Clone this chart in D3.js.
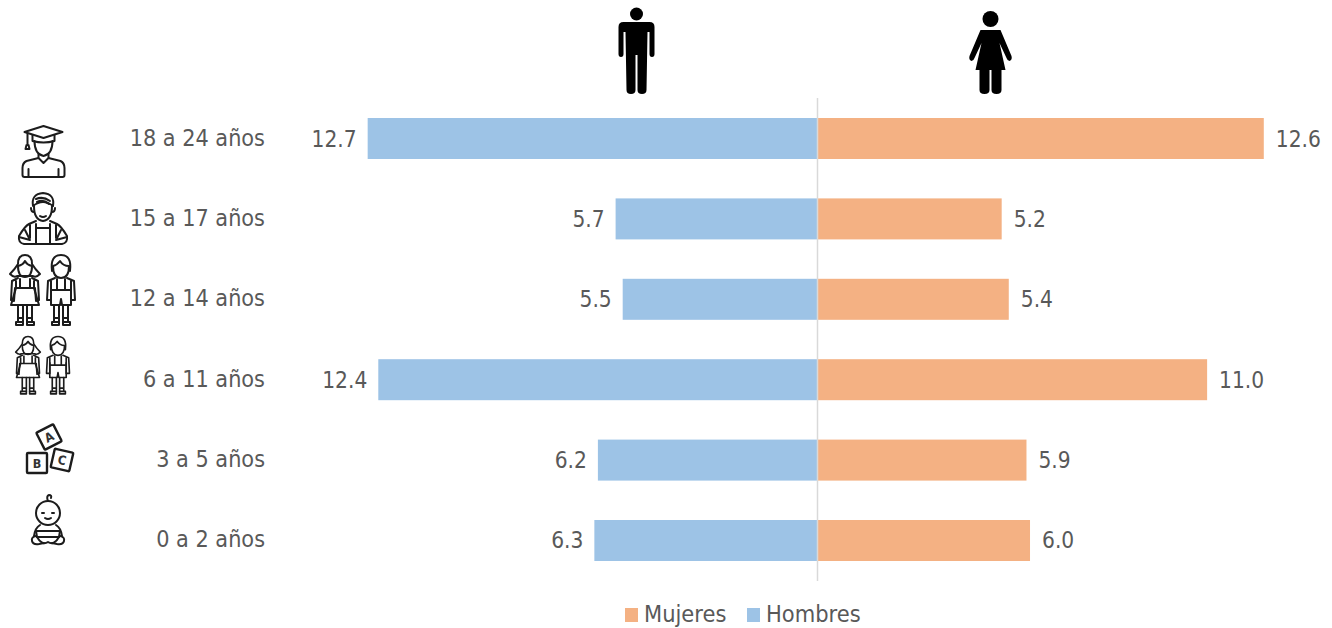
<!DOCTYPE html>
<html><head><meta charset="utf-8">
<script src="https://cdn.jsdelivr.net/npm/d3@7"></script>
<style>
html,body{margin:0;padding:0;background:#fff}
svg{display:block}
text{font-family:"DejaVu Sans";font-stretch:condensed;fill:#595959;font-size:22.5px}
text.cat{font-size:23.2px}
text.lg{font-size:23.4px}
.ic *{fill:none;stroke:#1c1c1c;stroke-width:2;stroke-linejoin:round;stroke-linecap:round}
.sil *{fill:#000;stroke:none}
</style></head><body>
<svg id="c" width="1332" height="628"></svg>
<script>
const categories=["18 a 24 años","15 a 17 años","12 a 14 años","6 a 11 años","3 a 5 años","0 a 2 años"];
const hombres=[12.7,5.7,5.5,12.4,6.2,6.3];
const mujeres=[12.6,5.2,5.4,11.0,5.9,6.0];
const seriesNames=["Mujeres","Hombres"];
const colors={Mujeres:"#F4B183",Hombres:"#9DC3E6"};

const svg=d3.select("#c");
const cx=817.5, unit=35.42;
const xR=d3.scaleLinear().domain([0,1]).range([cx,cx+unit]);
const xL=d3.scaleLinear().domain([0,1]).range([cx,cx-unit]);
const y=d3.scaleBand().domain(categories).range([118,561]).paddingInner(0.49).paddingOuter(0);
const fmt=d3.format(".1f");

svg.selectAll(".h").data(categories).join("rect").attr("class","h")
 .attr("x",(d,i)=>xL(hombres[i])).attr("y",d=>y(d)).attr("height",y.bandwidth())
 .attr("width",(d,i)=>xL(0)-xL(hombres[i])).attr("fill",colors.Hombres);
svg.selectAll(".m").data(categories).join("rect").attr("class","m")
 .attr("x",cx).attr("y",d=>y(d)).attr("height",y.bandwidth())
 .attr("width",(d,i)=>xR(mujeres[i])-cx).attr("fill",colors.Mujeres);
svg.append("line").attr("x1",cx).attr("x2",cx).attr("y1",98).attr("y2",581).attr("stroke","#d9d9d9").attr("stroke-width",1.5);

svg.selectAll(".hl").data(categories).join("text").attr("class","hl")
 .attr("x",(d,i)=>xL(hombres[i])-11).attr("y",d=>y(d)+y.bandwidth()/2+8).attr("text-anchor","end")
 .text((d,i)=>fmt(hombres[i]));
svg.selectAll(".ml").data(categories).join("text").attr("class","ml")
 .attr("x",(d,i)=>xR(mujeres[i])+12).attr("y",d=>y(d)+y.bandwidth()/2+8)
 .text((d,i)=>fmt(mujeres[i]));
svg.selectAll(".cat").data(categories).join("text").attr("class","cat")
 .attr("x",265).attr("y",d=>y(d)+y.bandwidth()/2+7).attr("text-anchor","end").text(d=>d);

// legend
const leg=[{n:"Mujeres",sx:625,tx:644},{n:"Hombres",sx:747,tx:766}];
leg.forEach(l=>{
 svg.append("rect").attr("x",l.sx).attr("y",608).attr("width",13).attr("height",14).attr("fill",colors[l.n]);
 svg.append("text").attr("class","lg").attr("x",l.tx).attr("y",622.4).text(l.n);
});

// silhouettes
function man(g){
 g.append("circle").attr("cx",0).attr("cy",-38).attr("r",6.5);
 g.append("path").attr("d","M-13,-30 Q-18,-30 -18,-25 L-18,2 Q-18,5 -15.5,5 Q-13,5 -13,2 L-13,-20 L-11,-20 L-10,38 Q-10,42 -5.5,42 Q-1,42 -1,38 L-1,3 L1,3 L1,38 Q1,42 5.5,42 Q10,42 10,38 L11,-20 L13,-20 L13,2 Q13,5 15.5,5 Q18,5 18,2 L18,-25 Q18,-30 13,-30 Z");
}
function woman(g){
 g.append("circle").attr("cx",0).attr("cy",-43).attr("r",8);
 g.append("path").attr("d","M-10,-32 L10,-32 L21,-6 Q22,-2 19,-1 Q17,-1 16,-4 L9,-19 L15,8 L11,8 L11,28 Q11,32 6,32 Q1,32 1,28 L1,8 L-1,8 L-1,28 Q-1,32 -6,32 Q-11,32 -11,28 L-11,8 L-15,8 L-9,-19 L-16,-4 Q-17,-1 -19,-1 Q-22,-2 -21,-6 Z");
}
man(svg.append("g").attr("class","sil").attr("transform","translate(636.5,52)"));
woman(svg.append("g").attr("class","sil").attr("transform","translate(990.5,62)"));

// outlined icons
function grad(g){
 g.append("path").attr("d","M-19,-15 L0,-21 L19,-15 L0,-9 Z");
 g.append("path").attr("d","M-11,-12 L-11,-6 Q0,-3 11,-6 L11,-12");
 g.append("path").attr("d","M-16,-14 L-16,-2 M-17,-2 L-15,-2 L-14,2 L-18,2 Z");
 g.append("path").attr("d","M-9,-6 Q-9,7 0,9 Q9,7 9,-6");
 g.append("path").attr("d","M-5,7 L-5,11 L0,16 L5,11 L5,7");
 g.append("path").attr("d","M-5,11 L-17,14 Q-21,16 -21,21 L-21,28 Q-21,30 -19,30 L19,30 Q21,30 21,28 L21,21 Q21,16 17,14 L5,11");
 g.append("path").attr("d","M-15,30 L-15,22 M15,30 L15,22");
}
function teen(g){
 g.append("path").attr("d","M-10,-10 Q-12,-22 0,-23 Q12,-22 10,-10 Q0,-18 -10,-10 Z");
 g.append("path").attr("d","M-7,-17 Q0,-20 7,-15 M-6,-14 Q0,-17 6,-12");
 g.append("path").attr("d","M-9,-10 Q-9,4 0,5 Q9,4 9,-10");
 g.append("path").attr("d","M-12,-8 Q-12,-4 -9,-4 M12,-8 Q12,-4 9,-4");
 g.append("path").attr("d","M-3,0 Q0,2 3,0");
 g.append("path").attr("d","M-7,5 L-14,8 Q-18,10 -24,20 Q-25,27 -19,28 L19,28 Q25,27 24,20 Q18,10 14,8 L7,5");
 g.append("path").attr("d","M-13,9 L-13,22 M13,9 L13,22 M-7,8 L-7,28 M7,8 L7,28 M-7,12 L7,12");
 g.append("path").attr("d","M-24,21 L-13,24 M24,21 L13,24 M-18,14 L-14,22 M18,14 L14,22");
}
function girl(g){
 g.append("path").attr("d","M-7,-27 Q-7,-36 0,-36 Q7,-36 7,-27 Q10,-22 15,-17 Q11,-13 8,-15 L-8,-15 Q-11,-13 -15,-17 Q-10,-22 -7,-27");
 g.append("path").attr("d","M-7,-25 Q-7,-14 0,-14 Q7,-14 7,-25 Q2,-26 0,-30 Q-2,-26 -7,-25");
 g.append("path").attr("d","M-7,-13 L-13,-10 L-14,9 L-11,10 L-10,-3 M7,-13 L13,-10 L14,9 L11,10 L10,-3 M-9,-10 L-9,-3 M9,-10 L9,-3 M-9,-3 L9,-3 M-5,-12 L-5,-3 M5,-12 L5,-3");
 g.append("path").attr("d","M-9,-3 L-14,14 L14,14 L9,-3");
 g.append("path").attr("d","M-7,14 L-7,31 M-2,14 L-2,31 M2,14 L2,31 M7,14 L7,31 M-7,27 L-2,27 M2,27 L7,27");
 g.append("path").attr("d","M-9,34 L-9,31 L-2,31 L-2,34 Z M2,34 L2,31 L9,31 L9,34 Z");
}
function boy(g){
 g.append("path").attr("d","M-9,-20 Q-11,-36 0,-36 Q11,-36 9,-20");
 g.append("path").attr("d","M-8,-25 Q-8,-13 0,-13 Q8,-13 8,-25 Q2,-25 -1,-30 Q-4,-26 -8,-25");
 g.append("path").attr("d","M-6,-13 L-13,-10 L-14,9 L-10,9 L-10,-4 M6,-13 L13,-10 L14,9 L10,9 L10,-4");
 g.append("path").attr("d","M-10,-10 L-10,14 L-1,14 L0,8 L1,14 L10,14 L10,-10 M-10,-1 L10,-1 M-4,-12 L-4,-1 M4,-12 L4,-1");
 g.append("path").attr("d","M-7,14 L-7,31 M-2,14 L-2,31 M2,14 L2,31 M7,14 L7,31 M-7,27 L-2,27 M2,27 L7,27");
 g.append("path").attr("d","M-9,34 L-9,31 L-2,31 L-2,34 Z M2,34 L2,31 L9,31 L9,34 Z");
}
function block(g,x,y,a,s,t){
 const b=g.append("g").attr("transform",`translate(${x},${y}) rotate(${a})`);
 b.append("rect").attr("x",-s/2).attr("y",-s/2).attr("width",s).attr("height",s).attr("rx",1).style("stroke-width",2.4);
 b.append("text").attr("text-anchor","middle").attr("y",4.5).text(t)
  .style("font-size","12.5px").style("font-weight","bold").style("fill","#333").style("stroke","none");
}
function baby(g){
 g.append("circle").attr("cx",0).attr("cy",-9).attr("r",12);
 g.append("path").attr("d","M0,-21 Q-2,-26 1,-27 Q4,-27 3,-24");
 g.append("path").attr("d","M-6,-9 L-4,-9 M4,-9 L6,-9 M-3,-4 Q0,-2 3,-4");
 g.append("path").attr("d","M-8,3 Q-13,6 -14,14 M8,3 Q13,6 14,14");
 g.append("path").attr("d","M-12,9 L12,9 L11,15 L-11,15 Z");
 g.append("path").attr("d","M-11,15 Q-6,24 0,20 Q6,24 11,15");
 g.append("path").attr("d","M-12,14 Q-17,15 -16,19 Q-15,23 -9,22 L-4,21 M12,14 Q17,15 16,19 Q15,23 9,22 L4,21");
}
const ic=(x,yy,s=1)=>svg.append("g").attr("class","ic").attr("transform",`translate(${x},${yy}) scale(${s})`);
grad(ic(43.5,147));
teen(ic(43,216));
girl(ic(25,291));
boy(ic(61,291));
girl(ic(28,366,.82));
boy(ic(58,366,.82));
const bl=ic(49,450);
block(bl,0,-13,-27,19,"A");
block(bl,-12,13,0,20,"B");
block(bl,13,10,13,19,"C");
baby(ic(48,522));
</script></body></html>
